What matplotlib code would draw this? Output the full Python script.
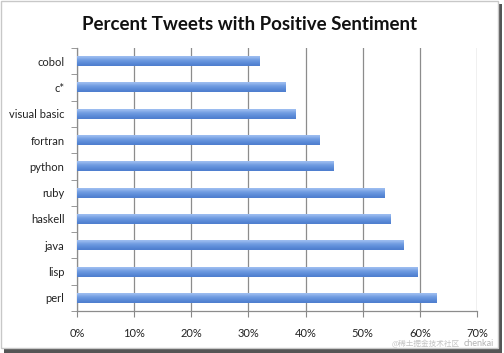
import matplotlib
matplotlib.use("Agg")
import matplotlib.pyplot as plt
from matplotlib.patches import Rectangle
from matplotlib.colors import LinearSegmentedColormap
import numpy as np

# data
languages = ["cobol", "c*", "visual basic", "fortran", "python",
             "ruby", "haskell", "java", "lisp", "perl"]
positive_pct = [32.0, 36.5, 38.3, 42.4, 44.9, 53.8, 54.8, 57.2, 59.6, 63.0]
x_ticks = [0, 10, 20, 30, 40, 50, 60, 70]
x_tick_labels = [f"{v}%" for v in x_ticks]

plt.rcParams["font.family"] = ["Lato", "DejaVu Sans"]

fig = plt.figure(figsize=(5.04, 3.53), dpi=100)
ax = fig.add_axes([77 / 504, 1 - 311 / 353, 400 / 504, 263 / 353])

# frame with a drop shadow around the whole picture
fig.patches.append(Rectangle((4 / 504, 0 / 353), 498 / 504, 349 / 353,
                             transform=fig.transFigure, facecolor="#555555",
                             edgecolor="none", zorder=-3))
fig.patches.append(Rectangle((1 / 504, 5 / 353), 497 / 504, 347 / 353,
                             transform=fig.transFigure, facecolor="white",
                             edgecolor="#c8c8c8", lw=1.0, zorder=-2))

y = np.arange(len(languages))
bars = ax.barh(y, positive_pct, height=0.38, color="#5b8ad6", edgecolor="none",
               zorder=3)

# vertical gradient inside each bar (light on top, darker below)
grad = np.array([[0.0], [0.35], [0.55], [0.75], [1.0]])
cmap = LinearSegmentedColormap.from_list("bar", ["#9dbdf0", "#6a98e0", "#4f7fcf"])
ax.set_xlim(0, 70)
ax.set_ylim(len(languages) - 0.5, -0.5)
for b in bars:
    x0, y0 = b.get_x(), b.get_y()
    w, h = b.get_width(), b.get_height()
    im = ax.imshow(grad, cmap=cmap, aspect="auto", interpolation="bicubic",
                   extent=(x0, x0 + w, y0 + h, y0), zorder=4)
    im.set_clip_path(b)

ax.set_xlim(0, 70)
ax.set_ylim(len(languages) - 0.5, -0.5)
ax.set_yticks(y)
ax.set_yticklabels(languages, fontsize=8, color="#222222")
ax.set_yticks(np.arange(len(languages) + 1) - 0.5, minor=True)
ax.tick_params(axis="y", which="major", length=0, pad=9)
ax.tick_params(axis="y", which="minor", length=4, color="#888888", direction="out")
ax.set_xticks(x_ticks)
ax.set_xticklabels(x_tick_labels, fontsize=8, color="#222222")
ax.tick_params(axis="x", length=4, color="#888888", pad=8)

ax.grid(axis="x", color="#8c8c8c", lw=0.9, zorder=1)
for side in ["top", "right"]:
    ax.spines[side].set_visible(False)
for side in ["left", "bottom"]:
    ax.spines[side].set_color("#8c8c8c")
    ax.spines[side].set_linewidth(0.9)

fig.text(250 / 504, 1 - 24 / 353, "Percent Tweets with Positive Sentiment",
         ha="center", va="center", fontsize=13.5, fontweight="bold", color="#111111")

# faint watermark in the corner
fig.text(392 / 504, 1 - 344 / 353, "@稀土掘金技术社区", fontsize=5.5, color="#c4c4c4",
         family=["Noto Sans CJK SC", "DejaVu Sans"], ha="left", va="center")
fig.text(494 / 504, 1 - 344 / 353, "chenkai", fontsize=6.5, color="#b4b4b4",
         ha="right", va="center")

fig.savefig("out.png", dpi=100)
